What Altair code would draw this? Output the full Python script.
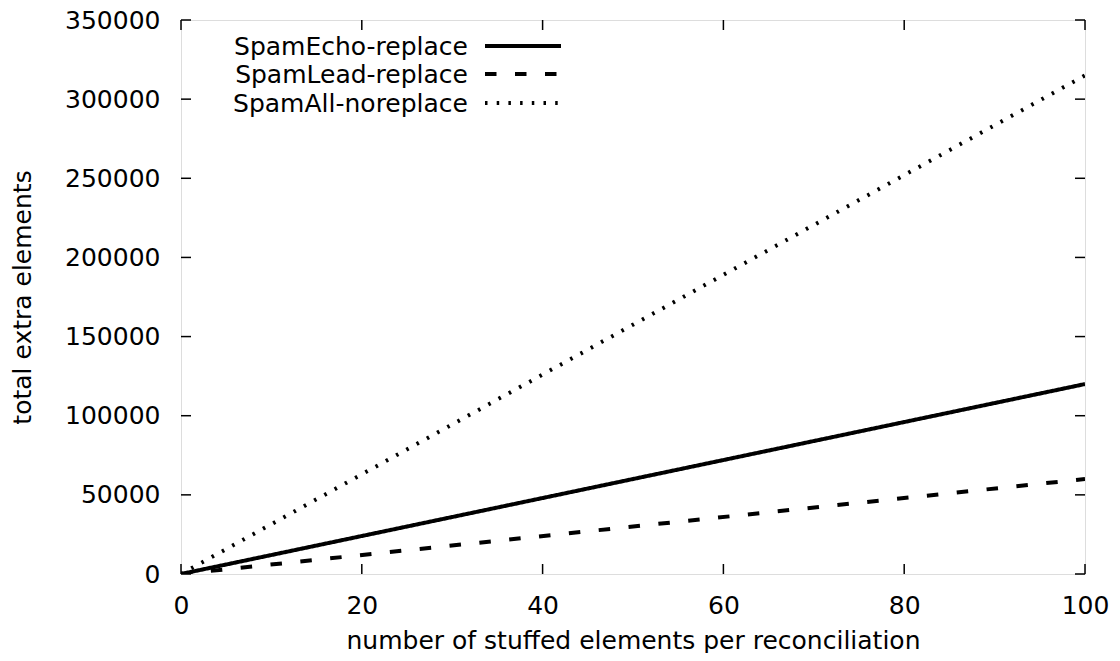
import altair as alt
import pandas as pd

# ---- data ----
series_names = ["SpamEcho-replace", "SpamLead-replace", "SpamAll-noreplace"]
x_values = [0, 100]
echo_values = [0, 120000]
lead_values = [0, 60000]
all_values = [0, 315000]
x_ticks = [0, 20, 40, 60, 80, 100]
y_ticks = [0, 50000, 100000, 150000, 200000, 250000, 300000, 350000]

FONT = "DejaVu Sans"
FS = 25
W, H = 904, 554

rows = []
for name, vals in zip(series_names, [echo_values, lead_values, all_values]):
    for xv, yv in zip(x_values, vals):
        rows.append({"series": name, "x": xv, "y": yv})
df = pd.DataFrame(rows)

dash_range = [[1, 0], [11.5, 18.5], [2.5, 9.2]]

xscale = alt.Scale(domain=[0, 100], nice=False, zero=False)
yscale = alt.Scale(domain=[0, 350000], nice=False)

lines = alt.Chart(df).mark_line(color="black", strokeWidth=4, strokeCap="butt", clip=True).encode(
    x=alt.X("x:Q", scale=xscale,
            axis=alt.Axis(values=x_ticks, format="d", ticks=False, domain=False, grid=False,
                          labelFont=FONT, labelFontSize=FS, labelColor="black", labelPadding=19,
                          labelFlush=False, labelOverlap=False,
                          title="number of stuffed elements per reconciliation",
                          titleFont=FONT, titleFontSize=FS, titleFontWeight="normal", titleColor="black",
                          titleX=W / 2, titleY=74, titleBaseline="alphabetic", titleAlign="center")),
    y=alt.Y("y:Q", scale=yscale,
            axis=alt.Axis(values=y_ticks, format="d", ticks=False, domain=False, grid=False,
                          labelFont=FONT, labelFontSize=FS, labelColor="black", labelPadding=21,
                          labelFlush=False, labelOverlap=False,
                          title="total extra elements",
                          titleFont=FONT, titleFontSize=FS, titleFontWeight="normal", titleColor="black",
                          titleX=-159, titleY=H / 2, titleAngle=270, titleAlign="center",
                          titleBaseline="middle")),
    strokeDash=alt.StrokeDash("series:N", scale=alt.Scale(domain=series_names, range=dash_range), legend=None),
    detail="series:N",
)

xt = pd.DataFrame({"t": x_ticks})
yt = pd.DataFrame({"t": y_ticks})
TL = 10
xtick_b = alt.Chart(xt).mark_rule(color="black", strokeWidth=1.5).encode(
    x=alt.X("t:Q", scale=xscale), y=alt.value(H), y2=alt.value(H - TL))
xtick_t = alt.Chart(xt).mark_rule(color="black", strokeWidth=1.5).encode(
    x=alt.X("t:Q", scale=xscale), y=alt.value(0), y2=alt.value(TL))
ytick_l = alt.Chart(yt).mark_rule(color="black", strokeWidth=1.5).encode(
    y=alt.Y("t:Q", scale=yscale), x=alt.value(0), x2=alt.value(TL))
ytick_r = alt.Chart(yt).mark_rule(color="black", strokeWidth=1.5).encode(
    y=alt.Y("t:Q", scale=yscale), x=alt.value(W), x2=alt.value(W - TL))

# ---- gnuplot-style legend (label left, sample right) ----
legend_layers = []
leg_y = [26, 54, 83]
for name, dash, ly in zip(series_names, dash_range, leg_y):
    ld = pd.DataFrame({"series": [name]})
    legend_layers.append(
        alt.Chart(ld).mark_text(font=FONT, fontSize=FS, align="right", baseline="middle", color="black").encode(
            text="series:N", x=alt.value(287), y=alt.value(ly + 1)))
    legend_layers.append(
        alt.Chart(ld).mark_rule(color="black", strokeWidth=4, strokeCap="butt", strokeDash=dash).encode(
            x=alt.value(304), x2=alt.value(380), y=alt.value(ly)))

chart = alt.layer(lines, xtick_b, xtick_t, ytick_l, ytick_r, *legend_layers).properties(
    width=W, height=H,
    autosize=alt.AutoSizeParams(type="none"),
    padding={"left": 173, "top": 12, "right": 27, "bottom": 79},
).configure_view(stroke="black", strokeWidth=2).configure(background="white")

chart.save("out.html", embed_options={"renderer": "svg", "actions": False})
